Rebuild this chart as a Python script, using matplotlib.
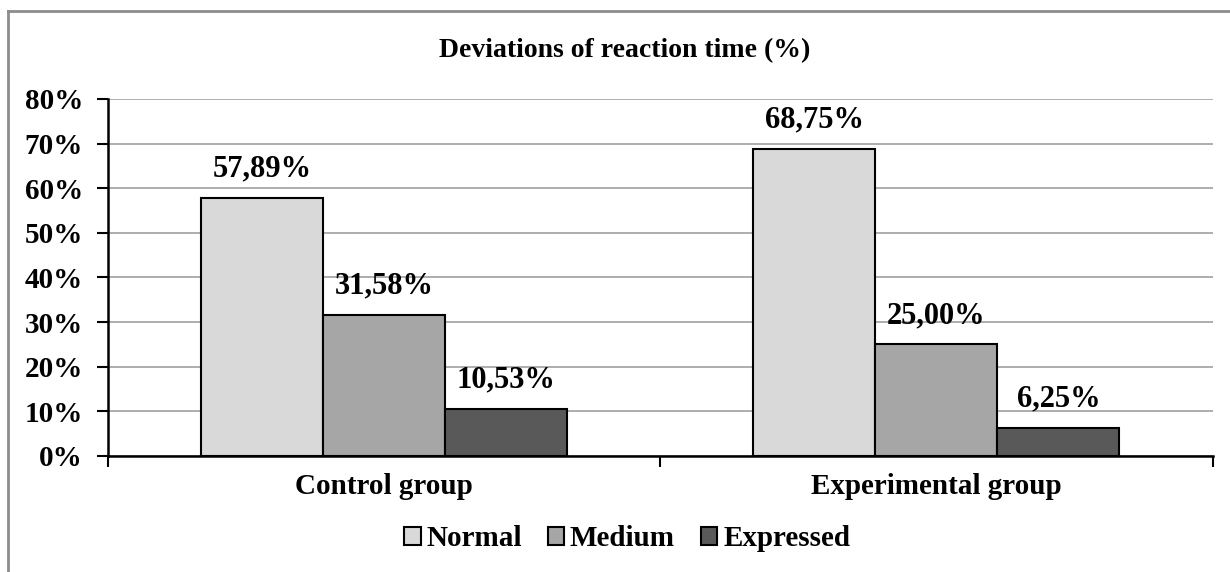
import numpy as np
import matplotlib.pyplot as plt
from matplotlib.lines import Line2D
from matplotlib.ticker import FuncFormatter

groups = ['Control group', 'Experimental group']
series = ['Normal', 'Medium', 'Expressed']
normal = [57.89, 68.75]
medium = [31.58, 25.00]
expressed = [10.53, 6.25]
colors = ['#d9d9d9', '#a6a6a6', '#595959']

plt.rcParams['font.family'] = ['Liberation Serif', 'DejaVu Serif']
plt.rcParams['font.weight'] = 'bold'

fig = plt.figure(figsize=(12.3, 5.72), dpi=100)
ax = fig.add_axes([0.0878, 0.203, 0.898, 0.624])

x = np.arange(len(groups))
w = 0.221
for i, (vals, name) in enumerate(zip([normal, medium, expressed], series)):
    bars = ax.bar(x + (i - 1) * w, vals, w, color=colors[i], edgecolor='black',
                  linewidth=1.5, label=name, zorder=3)
    for b, v in zip(bars, vals):
        ax.text(b.get_x() + b.get_width() / 2, v + 3.2, ('%.2f%%' % v).replace('.', ','),
                ha='center', va='bottom', fontsize=22, fontweight='bold')

ax.set_xlim(-0.5, 1.5)
ax.set_ylim(0, 80)
ax.set_yticks(np.arange(0, 81, 10))
ax.yaxis.set_major_formatter(FuncFormatter(lambda v, p: '%d%%' % v))
ax.yaxis.grid(True, color='#a0a0a0', linewidth=1.2, zorder=0)
ax.set_xticks(x)
ax.set_xticklabels(groups, fontsize=21, fontweight='bold')
ax.tick_params(axis='x', which='major', length=0, pad=12)
ax.set_xticks([-0.5, 0.5, 1.5], minor=True)
ax.tick_params(axis='x', which='minor', length=8, width=1.5, direction='out')
ax.tick_params(axis='y', length=8, width=1.5, labelsize=21, pad=10)
for s in ['top', 'right']:
    ax.spines[s].set_visible(False)
for s in ['left', 'bottom']:
    ax.spines[s].set_linewidth(1.8)

fig.text(0.508, 0.912, 'Deviations of reaction time (%)', ha='center', va='center',
         fontsize=20, fontweight='bold')

leg = fig.legend(loc='center', bbox_to_anchor=(0.51, 0.058), ncol=3, frameon=False,
                 fontsize=21, handlelength=0.55, handleheight=0.55, handletextpad=0.2,
                 columnspacing=0.9)

# outer chart frame (cut off at right and bottom)
fig.add_artist(Line2D([0.0065, 1.0], [0.981, 0.981], color='#8c8c8c', linewidth=2,
                      transform=fig.transFigure))
fig.add_artist(Line2D([0.0065, 0.0065], [0.0, 0.981], color='#8c8c8c', linewidth=2,
                      transform=fig.transFigure))

fig.savefig('out.png', dpi=100)
